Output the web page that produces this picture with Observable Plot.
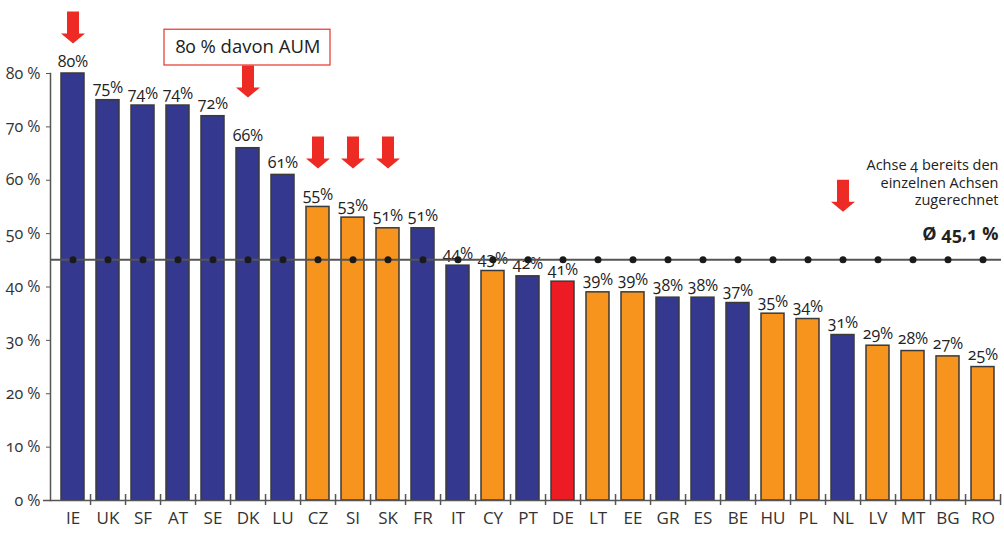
<!DOCTYPE html>
<html>
<head>
<meta charset="utf-8">
<script src="https://cdn.jsdelivr.net/npm/d3@7"></script>
<script src="https://cdn.jsdelivr.net/npm/@observablehq/plot@0.6"></script>
<style>
  html, body { margin: 0; padding: 0; background: #fff; }
  #chart svg { display: block; font-variant-numeric: oldstyle-nums; font-feature-settings: "onum" 1; }
</style>
</head>
<body>
<div id="chart"></div>
<script>
// Countries, ordered by share
const countries = ["IE","UK","SF","AT","SE","DK","LU","CZ","SI","SK","FR","IT","CY","PT","DE","LT","EE","GR","ES","BE","HU","PL","NL","LV","MT","BG","RO"];
// Share in percent
const shares = [80,75,74,74,72,66,61,55,53,51,51,44,43,42,41,39,39,38,38,37,35,34,31,29,28,27,25];
// Country group: old member states, new member states, Germany
const groups = ["alt","alt","alt","alt","alt","alt","alt","neu","neu","neu","alt","alt","neu","alt","de","neu","neu","alt","alt","alt","neu","neu","alt","neu","neu","neu","neu"];
// Average across all countries
const average = 45.1;
const averageLabel = "Ø 45,1 %";
// Y axis ticks
const yTicks = [0,10,20,30,40,50,60,70,80];
// Highlighted countries (arrow tops, in percent units)
const arrowCountries = ["IE","DK","CZ","SI","SK","NL"];
const arrowTops = [91.6,81.5,68.2,68.2,68.2,60.1];
// Notes
const boxNote = "80 % davon AUM";
const sideNote = "Achse 4 bereits den\neinzelnen Achsen\nzugerechnet";

const data = countries.map((c, i) => ({country: c, share: shares[i], group: groups[i]}));
const arrows = arrowCountries.map((c, i) => ({country: c, top: arrowTops[i]}));

const font = "'Open Sans', 'DejaVu Sans', sans-serif";
const W = 1004, H = 533;
const mL = 50, mR = 3, inL = 4;
const step = (W - mL - mR - inL) / countries.length;

// Solid block arrow pointing along the vector
const blockArrow = {
  draw(context, l) {
    const sw = 6, hw = 12, hl = 10;
    context.moveTo(-sw, 0);
    context.lineTo(sw, 0);
    context.lineTo(sw, -(l - hl));
    context.lineTo(hw, -(l - hl));
    context.lineTo(0, -l);
    context.lineTo(-hw, -(l - hl));
    context.lineTo(-sw, -(l - hl));
    context.closePath();
  }
};

const chart = Plot.plot({
  width: W,
  height: H,
  marginLeft: mL,
  marginRight: mR,
  marginTop: 73,
  marginBottom: 33,
  style: {fontFamily: font, fontSize: "15px", color: "#222", background: "#fff"},
  x: {domain: countries, insetLeft: inL, paddingInner: 0.34, paddingOuter: 0.17, label: null},
  y: {domain: [0, 80], label: null},
  color: {domain: ["alt","neu","de"], range: ["#34388f","#f7941d","#ed1c24"]},
  marks: [
    // bars
    Plot.barY(data, {x: "country", y: "share", fill: "group", stroke: "#3a3a3a", strokeWidth: 1.5}),
    // value labels
    Plot.text(data, {x: "country", y: "share", text: d => d.share + "%", lineAnchor: "bottom", dy: -7, fontSize: 16, fill: "#222"}),
    // average line with dots
    Plot.ruleY([average], {stroke: "#555", strokeWidth: 2}),
    Plot.dot(countries, {x: d => d, y: () => average, r: 3.5, fill: "#1a1a1a", stroke: "none"}),
    // axes
    Plot.ruleY([0], {stroke: "#555", strokeWidth: 1.5, insetLeft: -7}),
    Plot.frame({anchor: "left", stroke: "#555", strokeWidth: 1.5}),
    Plot.tickX(countries, {x: d => d, dx: step / 2, stroke: "#555", strokeWidth: 1.5, insetTop: 427 - 6, insetBottom: -5}),
    Plot.axisY({ticks: yTicks, tickFormat: d => d + " %", tickSize: 4, tickPadding: 6, fontSize: 16, stroke: "#555", fill: "#333"}),
    Plot.axisX({tickSize: 0, tickPadding: 11, fontSize: 17, fill: "#333"}),
    // highlight arrows
    Plot.vector(arrows, {x: "country", y: "top", length: 32, rotate: 180, anchor: "start", shape: blockArrow, fill: "#ee2a24", stroke: "none"}),
    // boxed note
    Plot.rect([boxNote], {x: () => "DK", y1: 88.2, y2: 81.5, insetLeft: -72, insetRight: -71, fill: "#fff", stroke: "#e8332a", strokeWidth: 1.2}),
    Plot.text([boxNote], {x: () => "DK", y: 84.9, text: d => d, fontSize: 18.5, fill: "#222"}),
    // side notes
    Plot.text([sideNote], {frameAnchor: "right", y: 62.8, lineAnchor: "middle", text: d => d, textAnchor: "end", dx: -3, dy: 17, fontSize: 14.5, lineHeight: 1.2, fill: "#222"}),
    Plot.text([averageLabel], {frameAnchor: "right", y: 49.8, text: d => d, textAnchor: "end", dx: -3, fontSize: 18, fontWeight: "bold", fill: "#222"})
  ]
});

document.getElementById("chart").append(chart);
</script>
</body>
</html>
